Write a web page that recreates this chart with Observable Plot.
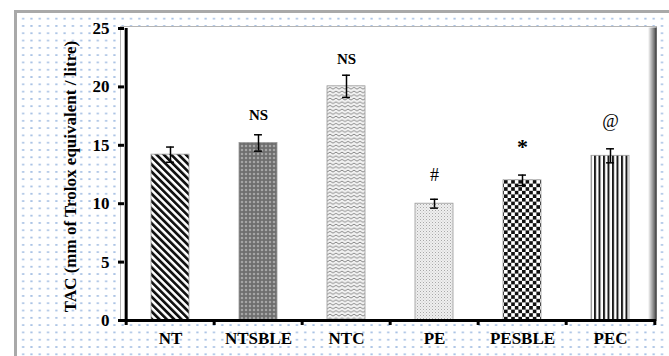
<!DOCTYPE html>
<html>
<head>
<meta charset="utf-8">
<script src="https://cdn.jsdelivr.net/npm/d3@7"></script>
<script src="https://cdn.jsdelivr.net/npm/@observablehq/plot@0.6"></script>
<style>
  html, body { margin: 0; padding: 0; background: #fff; }
  #wrap { position: relative; width: 669px; height: 356px; overflow: hidden; }
  #bg {
    position: absolute; left: 14px; top: 10px; right: 0; bottom: 0;
    border-left: 3px solid #a9a9a9; border-top: 3px solid #a9a9a9;
    background-color: #fff;
    background-image: radial-gradient(circle, #a9c2e4 0.9px, rgba(255,255,255,0) 1.3px);
    background-size: 8.3px 7.3px;
    background-position: 2px 2px;
  }
  #chart { position: absolute; left: 0; top: 0; }
  #chart svg text { font-family: 'Liberation Serif', 'Times New Roman', serif; }
  #chart svg g[aria-label="y-axis tick label"] { font-size: 17px; font-weight: bold; }
  #chart svg g[aria-label="x-axis tick label"] { font-size: 17px; font-weight: bold; }
</style>
</head>
<body>
<div id="wrap"><div id="bg"></div><div id="chart"></div></div>
<script>
// ---- data ----
const categories = ["NT", "NTSBLE", "NTC", "PE", "PESBLE", "PEC"];
const values = [14.2, 15.2, 20.05, 10.0, 12.0, 14.1];
const errors = [0.65, 0.7, 0.95, 0.38, 0.45, 0.6];
const sigLabels = ["", "NS", "NS", "#", "*", "@"];
const sigY = [null, 17.6, 22.4, 12.4, 14.9, 17.1];
const yTicks = [0, 5, 10, 15, 20, 25];
const yLabel = "TAC (mm of Trolox equivalent / litre)";

// ---- styling (pattern per category) ----
const patternFor = {
  NT: "url(#pat-nt)", NTSBLE: "url(#pat-ntsble)", NTC: "url(#pat-ntc)",
  PE: "url(#pat-pe)", PESBLE: "url(#pat-pesble)", PEC: "url(#pat-pec)"
};

const rows = categories.map((c, i) => ({
  cat: c, value: values[i], err: errors[i],
  lo: values[i] - errors[i], hi: values[i] + errors[i],
  sig: sigLabels[i], sigY: sigY[i], fill: patternFor[c]
}));

const W = 669, H = 356, mL = 124, mR = 13, mT = 28, mB = 36;
const step = (W - mL - mR) / categories.length;
const pad = 0.57;
const bandW = step * (1 - pad);
const capW = 8;
const capInset = (bandW - capW) / 2;
const serif = "'Liberation Serif', 'Times New Roman', serif";

const plot = Plot.plot({
  width: W, height: H,
  marginLeft: mL, marginRight: mR, marginTop: mT, marginBottom: mB,
  style: { background: "transparent", fontFamily: serif, fontWeight: "bold", fontSize: "14px", color: "#000", overflow: "visible" },
  x: { domain: categories, paddingInner: pad, paddingOuter: pad / 2, align: 0.5, label: null },
  y: { domain: [0, 25], label: null },
  color: { type: "identity" },
  marks: [
    Plot.frame({ fill: "white", stroke: "#b5b5b5", strokeWidth: 1, insetLeft: -4, insetTop: -2 }),
    Plot.frame({ fill: "url(#shadow-r)", stroke: "none", insetTop: -1 }),
    Plot.barY(rows, { x: "cat", y: "value", fill: "fill", stroke: "#9a9a9a", strokeWidth: 0.8 }),
    // error bars
    Plot.ruleX(rows, { x: "cat", y1: "lo", y2: "hi", stroke: "#000", strokeWidth: 1.5 }),
    Plot.tickY(rows, { x: "cat", y: "lo", stroke: "#000", strokeWidth: 1.5, insetLeft: capInset, insetRight: capInset }),
    Plot.tickY(rows, { x: "cat", y: "hi", stroke: "#000", strokeWidth: 1.5, insetLeft: capInset, insetRight: capInset }),
    // significance marks
    Plot.text(rows.filter(d => d.sig === "NS"), {
      x: "cat", y: "sigY", text: "sig", fontWeight: "bold", fontSize: 15
    }),
    Plot.text(rows.filter(d => d.sig === "*"), {
      x: "cat", y: "sigY", text: "sig", fontWeight: "bold", fontSize: 22
    }),
    Plot.text(rows.filter(d => d.sig === "#" || d.sig === "@"), {
      x: "cat", y: "sigY", text: "sig", fontWeight: "normal", fontSize: 18
    }),
    // axes lines
    Plot.ruleY([0], { stroke: "#000", strokeWidth: 3 }),
    Plot.ruleX([categories[0]], { y1: 0, y2: 25, dx: -step / 2, stroke: "#000", strokeWidth: 3 }),
    // y axis
    Plot.axisY({
      ticks: yTicks, tickSize: 6, tickPadding: 9, strokeWidth: 3, label: null
    }),
    Plot.text([yLabel], {
      text: d => d, frameAnchor: "left", textAnchor: "middle", rotate: -90, dx: -54, dy: 2,
      fontSize: 17, fontWeight: "bold"
    }),
    // x axis: ticks between categories
    Plot.axisX({ ticks: categories, tickSize: 5, strokeWidth: 3, dx: -step / 2, fill: "none", label: null }),
    Plot.axisX({ ticks: [categories[categories.length - 1]], tickSize: 5, strokeWidth: 3, dx: step / 2, fill: "none", label: null }),
    // x labels
    Plot.axisX({ ticks: categories, tickSize: 0, tickPadding: 11, label: null })
  ]
});

// pattern definitions
const svg = d3.select(plot);
const defs = svg.insert("defs", ":first-child");

// NT: diagonal stripes "\"
let p = defs.append("pattern").attr("id", "pat-nt").attr("patternUnits", "userSpaceOnUse")
  .attr("width", 5.2).attr("height", 5.2).attr("patternTransform", "rotate(-45)");
p.append("rect").attr("width", 5.2).attr("height", 5.2).attr("fill", "#fff");
p.append("rect").attr("width", 2.7).attr("height", 5.2).attr("fill", "#111");

// NTSBLE: dark gray with light specks
p = defs.append("pattern").attr("id", "pat-ntsble").attr("patternUnits", "userSpaceOnUse")
  .attr("width", 4).attr("height", 4);
p.append("rect").attr("width", 4).attr("height", 4).attr("fill", "#6e6e6e");
p.append("rect").attr("x", 1.5).attr("y", 0.8).attr("width", 1).attr("height", 2.4).attr("fill", "#b8b8b8");
p.append("rect").attr("x", 0.8).attr("y", 1.5).attr("width", 2.4).attr("height", 1).attr("fill", "#b8b8b8");

// NTC: zigzag waves
p = defs.append("pattern").attr("id", "pat-ntc").attr("patternUnits", "userSpaceOnUse")
  .attr("width", 6).attr("height", 3.6);
p.append("rect").attr("width", 6).attr("height", 3.6).attr("fill", "#f2f2f2");
p.append("polyline").attr("points", "0,1 3,2.8 6,1").attr("fill", "none").attr("stroke", "#7a7a7a").attr("stroke-width", 0.9);

// PE: light stipple
p = defs.append("pattern").attr("id", "pat-pe").attr("patternUnits", "userSpaceOnUse")
  .attr("width", 3).attr("height", 3);
p.append("rect").attr("width", 3).attr("height", 3).attr("fill", "#efefef");
p.append("rect").attr("x", 0).attr("y", 0).attr("width", 1).attr("height", 1).attr("fill", "#a8a8a8");
p.append("rect").attr("x", 1.5).attr("y", 1.5).attr("width", 1).attr("height", 1).attr("fill", "#c4c4c4");

// PESBLE: checkerboard
p = defs.append("pattern").attr("id", "pat-pesble").attr("patternUnits", "userSpaceOnUse")
  .attr("width", 7.2).attr("height", 7.2);
p.append("rect").attr("width", 7.2).attr("height", 7.2).attr("fill", "#fff");
p.append("rect").attr("width", 3.6).attr("height", 3.6).attr("fill", "#111");
p.append("rect").attr("x", 3.6).attr("y", 3.6).attr("width", 3.6).attr("height", 3.6).attr("fill", "#111");

// PEC: vertical stripes
p = defs.append("pattern").attr("id", "pat-pec").attr("patternUnits", "userSpaceOnUse")
  .attr("width", 4.5).attr("height", 4.5);
p.append("rect").attr("width", 4.5).attr("height", 4.5).attr("fill", "#fff");
p.append("rect").attr("width", 2).attr("height", 4.5).attr("fill", "#1a1a1a");

// right-edge shadow of plot area
const g = defs.append("linearGradient").attr("id", "shadow-r").attr("x1", 0).attr("x2", 1).attr("y1", 0).attr("y2", 0);
g.append("stop").attr("offset", 0).attr("stop-color", "#000").attr("stop-opacity", 0);
g.append("stop").attr("offset", 0.984).attr("stop-color", "#000").attr("stop-opacity", 0);
g.append("stop").attr("offset", 0.996).attr("stop-color", "#000").attr("stop-opacity", 0.55);
g.append("stop").attr("offset", 1).attr("stop-color", "#000").attr("stop-opacity", 0.8);

document.getElementById("chart").appendChild(plot);
</script>
</body>
</html>
